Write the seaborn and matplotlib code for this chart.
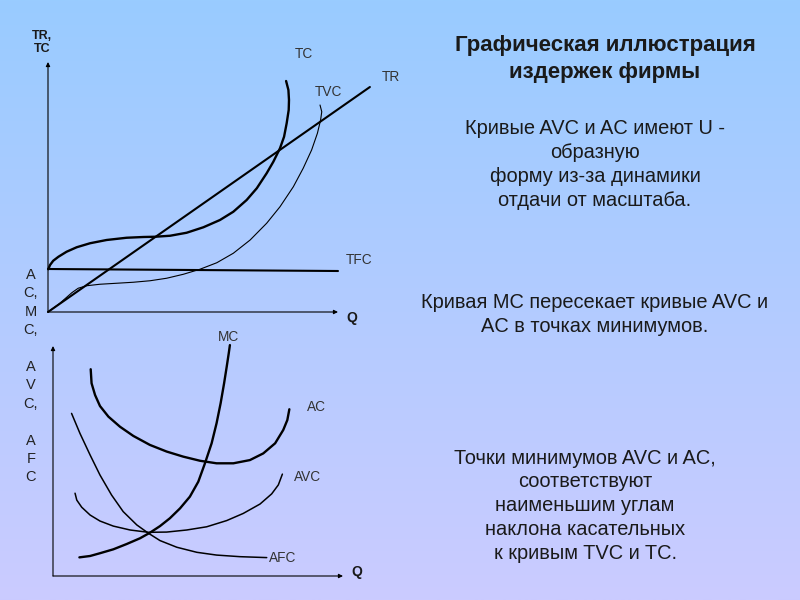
import numpy as np
import seaborn as sns
import matplotlib.pyplot as plt
from matplotlib.colors import LinearSegmentedColormap

# top panel: total costs (Q, cost)
tc_q = [0.1, 0.7, 1.8, 3.6, 6.4, 9.9, 14.5, 20.2, 27.1, 32.9, 36.9, 42.1, 47.8, 53.6,
        59.3, 63.9, 68.5, 72, 75.4, 77.7, 80, 81.4, 82.3, 83, 83.1, 82.9, 82.1]
tc_c = [17.1, 18.8, 20.5, 22.1, 24.1, 25.9, 27.5, 28.8, 29.7, 30, 30.1, 30.5, 31.7, 33.9,
        36.8, 40.1, 44.8, 49.5, 55.5, 60.1, 65.5, 70.1, 75.5, 80.8, 84.8, 88.8, 92.4]
tvc_q = [0, 4, 8.2, 10.4, 13.3, 17.9, 23.7, 29.4, 35.2, 40.9, 46.7, 52.4, 58.2, 63.9,
         69.7, 75.4, 80, 84.6, 88, 90.9, 92.9, 94, 94.4, 93.8]
tvc_c = [0, 3.4, 7.7, 9.5, 10.5, 11.1, 11.5, 11.9, 12.5, 13.5, 15.1, 17.1, 19.7, 23.5,
         28.8, 35.5, 42.1, 50.1, 57.5, 64.8, 71.5, 76.8, 80.1, 82.8]
tr_q = [0, 111]
tr_c = [0, 90]
tfc_q = [0, 100]
tfc_c = [17.2, 16.4]

# bottom panel: average and marginal costs
mc_q = [9.1, 12.8, 16.2, 20.8, 25.4, 30, 33.4, 36.9, 40.3, 43.8, 47.2, 50.1, 52.4,
        54.7, 56.4, 57.8, 59, 59.9, 60.6, 61]
mc_c = [8.1, 8.7, 9.9, 11.6, 13.9, 16.4, 18.8, 21.7, 25.1, 29.4, 34.5, 41, 49,
        57.7, 66.4, 75.1, 83.8, 91, 96.8, 100.4]
ac_q = [13, 13.3, 14.5, 16.2, 19.1, 23.1, 27.7, 33.4, 39.2, 44.9, 50.7, 56.4, 62.2,
        67.9, 72.5, 76.6, 79.4, 80.8, 81.5]
ac_c = [89.9, 83.8, 78.7, 73.9, 69.3, 64.9, 60.9, 57, 54.1, 51.9, 50.1, 49, 49,
        50.4, 53.3, 57.7, 63.5, 67.8, 72.5]
avc_q = [7.6, 8.2, 9.9, 12.8, 16.2, 20.8, 26.6, 32.9, 39.2, 46.1, 53, 59.9, 65.6,
         71.4, 75.4, 77.7, 79.1]
avc_c = [36, 33, 29.9, 26.5, 23.9, 21.7, 20, 19, 19.1, 20, 21.4, 24.1, 27.2,
         31.3, 35.7, 39.6, 44.3]
afc_q = [6.4, 9.3, 12.8, 16.2, 20.2, 24.2, 28.9, 32.9, 36.9, 42.7, 49.6, 56.4, 64.5, 73.7]
afc_c = [70.7, 62, 52.6, 43.9, 35.2, 28, 22.2, 18.6, 15.4, 12.5, 10.3, 9.1, 8.4, 8]

title = ["Графическая иллюстрация", "издержек фирмы"]
note1 = ["Кривые AVC и AC имеют U -", "образную", "форму из-за динамики", "отдачи от масштаба."]
note2 = ["Кривая MC пересекает кривые AVC и", "AC в точках минимумов."]
note3 = ["Точки минимумов AVC и AC,", "соответствуют", "наименьшим углам",
         "наклона касательных", "к кривым TVC и TC."]
side_letters = ["A", "C,", "M", "C,", "", "A", "V", "C,", "", "A", "F", "C"]

sns.set_style("white")
plt.rcParams["font.family"] = ["Liberation Sans", "DejaVu Sans"]

fig = plt.figure(figsize=(8, 6), dpi=100)

# background gradient + slide texts in pixel coordinates
bg = fig.add_axes([0, 0, 1, 1])
cmap = LinearSegmentedColormap.from_list("slide", ["#99ccff", "#cbcbff"])
bg.imshow(np.linspace(0, 1, 256).reshape(-1, 1), cmap=cmap, aspect="auto",
          extent=[0, 800, 600, 0])
bg.set_xlim(0, 800)
bg.set_ylim(600, 0)
bg.axis("off")

txt = "#1a1a1a"
for i, s in enumerate(title):
    bg.text(605, 46 + 26.5 * i, s, ha="center", va="center", fontsize=16,
            fontweight="bold", color=txt)
for i, s in enumerate(note1):
    bg.text(595, 129 + 23.8 * i, s, ha="center", va="center", fontsize=14.4, color=txt)
for i, s in enumerate(note2):
    bg.text(595, 302 + 24.5 * i, s, ha="center", va="center", fontsize=14.4, color=txt)
for i, s in enumerate(note3):
    bg.text(585, 458 + 23.8 * i, s, ha="center", va="center", fontsize=14.4, color=txt)
for i, s in enumerate(side_letters):
    bg.text(31, 275 + 18.4 * i, s, ha="center", va="center", fontsize=10.5, color="#222222")
bg.text(42, 36, "TR,", ha="center", va="center", fontsize=9, fontweight="bold", color=txt)
bg.text(42, 49, "TC", ha="center", va="center", fontsize=9, fontweight="bold", color=txt)


def overlay(x0, y0, sx, sy):
    ax = fig.add_axes([0, 0, 1, 1])
    ax.patch.set_alpha(0)
    ax.set_xlim(-x0 / sx, (800 - x0) / sx)
    ax.set_ylim((y0 - 600) / sy, y0 / sy)
    ax.axis("off")
    return ax


def axes_arrows(ax):
    arrow = dict(arrowstyle="-|>", lw=0.8, color="black", mutation_scale=6, shrinkA=0, shrinkB=0)
    ax.annotate("", xy=(0, 100), xytext=(0, 0), arrowprops=arrow)
    ax.annotate("", xy=(100, 0), xytext=(0, 0), arrowprops=arrow)


def curve(ax, q, c, lw):
    sns.lineplot(x=q, y=c, sort=False, estimator=None, ax=ax, color="black",
                 linewidth=lw, solid_capstyle="round", solid_joinstyle="round")


lab = dict(fontsize=9.8, color="#333333", ha="left", va="center")

top = overlay(48, 312, 2.9, 2.5)
axes_arrows(top)
curve(top, tr_q, tr_c, 1.5)
curve(top, tfc_q, tfc_c, 1.5)
curve(top, tc_q, tc_c, 1.7)
curve(top, tvc_q, tvc_c, 0.8)
top.text(85, 103, "TC", **lab)
top.text(115, 94, "TR", **lab)
top.text(92, 88, "TVC", **lab)
top.text(102.5, 21, "TFC", **lab)
top.text(103, -2.5, "Q", fontsize=10, fontweight="bold", color=txt, ha="left", va="center")

bot = overlay(53, 576, 2.9, 2.3)
axes_arrows(bot)
curve(bot, mc_q, mc_c, 1.7)
curve(bot, ac_q, ac_c, 1.7)
curve(bot, avc_q, avc_c, 1.1)
curve(bot, afc_q, afc_c, 1.1)
bot.text(57, 104, "MC", **lab)
bot.text(87.5, 73.5, "AC", **lab)
bot.text(83, 43, "AVC", **lab)
bot.text(74.5, 7.8, "AFC", **lab)
bot.text(103, 1.7, "Q", fontsize=10, fontweight="bold", color=txt, ha="left", va="center")

fig.savefig("out.png", dpi=100)
